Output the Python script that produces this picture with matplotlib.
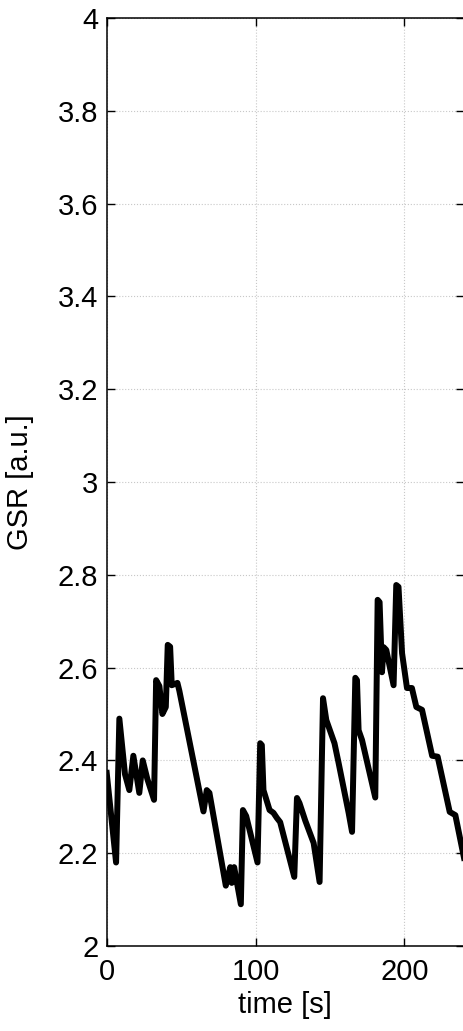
import matplotlib.pyplot as plt
import numpy as np

# GSR signal
t = [0, 6.3, 8.5, 12.3, 15.2, 17.9, 21.9, 24.2, 27.3, 31.8, 33.2, 35.4, 37.4, 39.7,
     41.0, 42.6, 43.7, 47.5, 48.8, 65.0, 67.2, 69.0, 80.0, 83.0, 84.0, 85.6, 90.1,
     91.5, 93.7, 101.3, 103.1, 104.2, 105.3, 109.4, 112.0, 114.3, 116.5, 126.0,
     127.8, 129.5, 133.4, 139.0, 143.0, 145.3, 147.5, 153.0, 155.8, 162.5, 164.8,
     167.0, 168.1, 169.2, 171.5, 180.4, 182.0, 183.3, 184.9, 186.0, 187.8, 192.7,
     194.5, 196.0, 198.4, 201.7, 205.0, 208.0, 211.8, 218.6, 222.3, 230.4, 234.2,
     240.0]
gsr = [2.373, 2.18, 2.49, 2.37, 2.336, 2.41, 2.33, 2.40, 2.36, 2.315, 2.573, 2.56,
       2.50, 2.515, 2.649, 2.645, 2.562, 2.567, 2.55, 2.29, 2.336, 2.33, 2.13, 2.17,
       2.136, 2.17, 2.09, 2.293, 2.28, 2.18, 2.437, 2.433, 2.336, 2.293, 2.287,
       2.276, 2.267, 2.149, 2.319, 2.308, 2.27, 2.222, 2.138, 2.534, 2.487, 2.437,
       2.394, 2.287, 2.246, 2.578, 2.573, 2.465, 2.444, 2.32, 2.746, 2.741, 2.59,
       2.644, 2.638, 2.562, 2.778, 2.774, 2.631, 2.556, 2.556, 2.515, 2.509, 2.41,
       2.408, 2.289, 2.282, 2.19]

plt.rcParams['font.family'] = ['Liberation Sans', 'DejaVu Sans']

fig = plt.figure(figsize=(4.63, 10.31), dpi=100)
ax = fig.add_axes([106.7 / 463, 85 / 1031, 357.3 / 463, 928 / 1031])

ax.plot(t, gsr, color='black', linewidth=4.3, solid_joinstyle='round')

ax.set_xlim(0, 240)
ax.set_ylim(2, 4)
ax.set_xticks([0, 100, 200])
ax.set_yticks(np.arange(2, 4.01, 0.2))
ax.set_yticklabels(['2', '2.2', '2.4', '2.6', '2.8', '3', '3.2', '3.4', '3.6', '3.8', '4'])
ax.grid(True, color='#c8c8c8', linestyle=':', linewidth=0.8)
ax.tick_params(direction='in', length=6, width=1, labelsize=21,
               top=True, right=True, pad=6)
ax.tick_params(axis='x', pad=9)
for s in ax.spines.values():
    s.set_linewidth(1.1)

ax.set_xlabel('time [s]', fontsize=21, labelpad=3)
ax.set_ylabel('GSR [a.u.]', fontsize=21, labelpad=17)

fig.savefig('out.png', dpi=100)
